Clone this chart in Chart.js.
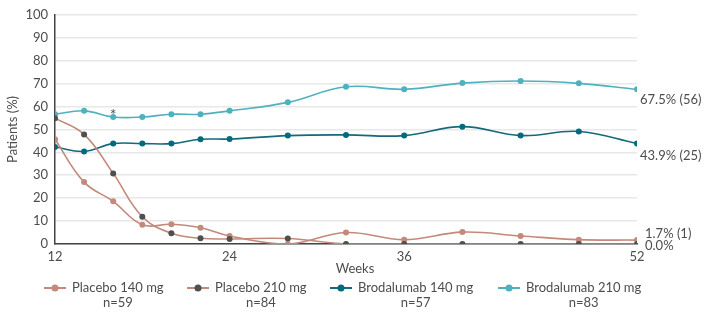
<!DOCTYPE html>
<html>
<head>
<meta charset="utf-8">
<script src="https://cdn.jsdelivr.net/npm/chart.js@4"></script>
<style>
  html, body { margin: 0; padding: 0; background: #fff; }
</style>
</head>
<body>
<canvas id="chart" width="710" height="321"></canvas>
<script>
const weeks = [12, 14, 16, 18, 20, 22, 24, 28, 32, 36, 40, 44, 48, 52]
const xTicks = [12, 24, 36, 52]

const placebo140 = [45.7, 27, 18.6, 8.4, 8.6, 7.1, 3.5, 0, 5.0, 1.9, 5.2, 3.5, 1.9, 1.7]
const placebo210 = [54.9, 47.8, 30.8, 11.9, 4.7, 2.5, 2.2, 2.4, 0, 0, 0, 0, 0, 0]
const brod140 = [42.3, 40.4, 43.8, 43.8, 43.8, 45.7, 45.8, 47.3, 47.6, 47.3, 51.2, 47.3, 49.1, 43.9]
const brod210 = [56.6, 58.1, 55.4, 55.4, 56.6, 56.6, 58.1, 61.8, 68.6, 67.5, 70.2, 71.1, 70.1, 67.5]

const seriesNames = ['Placebo 140 mg', 'Placebo 210 mg', 'Brodalumab 140 mg', 'Brodalumab 210 mg']
const seriesN = ['n=59', 'n=84', 'n=57', 'n=83']
const endLabels = ['1.7% (1)', '0.0%', '43.9% (25)', '67.5% (56)']

const FONT = 'Lato, "Open Sans", sans-serif'
const TEXT = '#4d4d4d'

const styles = [
  { line: '#c3897b', point: '#c3897b', endDx: 8, endDy: -6, legX: 44 },
  { line: '#c3897b', point: '#4f4f4f', endDx: 8, endDy: 2, legX: 187 },
  { line: '#14697a', point: '#006b7e', endDx: 3, endDy: 12, legX: 330 },
  { line: '#4db2bd', point: '#4db2bd', endDx: 3, endDy: 11, legX: 498 }
]

const toPoints = arr => arr.map((v, i) => ({ x: weeks[i], y: v }))

// extra text: asterisk, end labels, axis titles and the two-line legend
const annotations = {
  id: 'annotations',
  afterDatasetsDraw (chart) {
    const { ctx, chartArea, scales: { x, y } } = chart
    ctx.save()
    ctx.fillStyle = TEXT

    // asterisk over week 16
    ctx.font = '16px ' + FONT
    ctx.textAlign = 'center'
    ctx.textBaseline = 'middle'
    ctx.fillText('*', x.getPixelForValue(16), y.getPixelForValue(brod210[2]) - 2)

    ctx.font = '13px ' + FONT
    // values at week 52
    ctx.textAlign = 'left'
    chart.data.datasets.forEach((ds, i) => {
      const last = ds.data[ds.data.length - 1].y
      ctx.fillText(endLabels[i], chartArea.right + styles[i].endDx, y.getPixelForValue(last) + styles[i].endDy)
    })

    // x title
    ctx.textAlign = 'center'
    ctx.fillText('Weeks', (chartArea.left + chartArea.right) / 2 + 9, 269)

    // y title
    ctx.save()
    ctx.translate(13, (chartArea.top + chartArea.bottom) / 2)
    ctx.rotate(-Math.PI / 2)
    ctx.fillText('Patients (%)', 0, 0)
    ctx.restore()

    // legend
    styles.forEach((s, i) => {
      const lx = s.legX
      ctx.strokeStyle = s.line
      ctx.lineWidth = 2
      ctx.beginPath()
      ctx.moveTo(lx, 288)
      ctx.lineTo(lx + 22, 288)
      ctx.stroke()
      ctx.fillStyle = s.point
      ctx.beginPath()
      ctx.arc(lx + 11, 288, 3.5, 0, Math.PI * 2)
      ctx.fill()
      ctx.fillStyle = TEXT
      ctx.textAlign = 'left'
      const tx = lx + 28
      ctx.fillText(seriesNames[i], tx, 288)
      const w = ctx.measureText(seriesNames[i]).width
      ctx.textAlign = 'center'
      ctx.fillText(seriesN[i], tx + w / 2, 303)
    })
    ctx.restore()
  }
}

const data = [placebo140, placebo210, brod140, brod210]

new Chart(document.querySelector('#chart').getContext('2d'), {
  type: 'line',
  data: {
    datasets: data.map((arr, i) => ({
      label: seriesNames[i],
      data: toPoints(arr),
      borderColor: styles[i].line,
      backgroundColor: styles[i].point,
      pointBackgroundColor: styles[i].point,
      pointBorderColor: styles[i].point,
      pointRadius: 3,
      pointBorderWidth: 0,
      borderWidth: 1.6,
      tension: 0.4,
      order: i === 1 ? 0 : 1
    }))
  },
  plugins: [annotations],
  options: {
    responsive: false,
    animation: false,
    devicePixelRatio: 1,
    layout: { padding: { top: 12, right: 73, bottom: 0, left: 0 } },
    plugins: {
      legend: { display: false },
      tooltip: { enabled: false }
    },
    scales: {
      x: {
        type: 'linear',
        min: 12,
        max: 52,
        afterBuildTicks: scale => { scale.ticks = xTicks.map(v => ({ value: v })) },
        afterFit: scale => { scale.height = 77 },
        grid: { display: false, drawTicks: false },
        border: { display: true, color: '#444', width: 1.5 },
        ticks: { padding: 5, color: TEXT, font: { family: FONT, size: 13 }, maxRotation: 0 }
      },
      y: {
        min: 0,
        max: 100,
        afterFit: scale => { scale.width = 55 },
        grid: { color: '#e8e8e8', lineWidth: 1.5, drawTicks: false },
        border: { display: true, color: '#444', width: 1.5 },
        ticks: { stepSize: 10, padding: 7, color: TEXT, font: { family: FONT, size: 13 } }
      }
    }
  }
})
</script>
</body>
</html>
